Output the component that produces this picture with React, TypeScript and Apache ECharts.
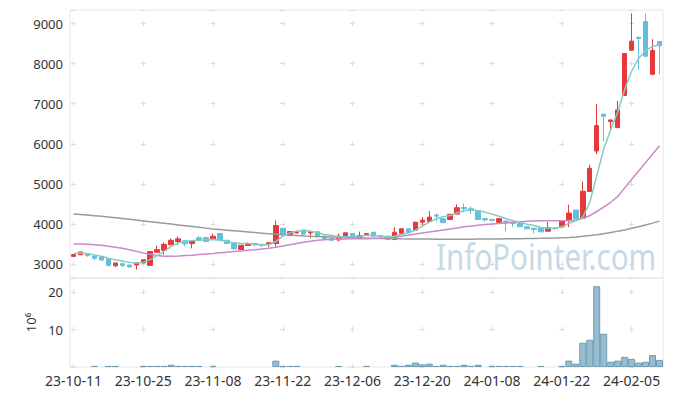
import React, { useEffect, useRef } from 'react';
import * as echarts from 'echarts';

const dates = [
  '23-10-11', '23-10-12', '23-10-13', '23-10-16', '23-10-17', '23-10-18', '23-10-19', '23-10-20', '23-10-23', '23-10-24',
  '23-10-25', '23-10-26', '23-10-27', '23-10-30', '23-10-31', '23-11-01', '23-11-02', '23-11-03', '23-11-06', '23-11-07',
  '23-11-08', '23-11-09', '23-11-10', '23-11-13', '23-11-14', '23-11-15', '23-11-16', '23-11-17', '23-11-20', '23-11-21',
  '23-11-22', '23-11-23', '23-11-24', '23-11-27', '23-11-28', '23-11-29', '23-11-30', '23-12-01', '23-12-04', '23-12-05',
  '23-12-06', '23-12-07', '23-12-08', '23-12-11', '23-12-12', '23-12-13', '23-12-14', '23-12-15', '23-12-18', '23-12-19',
  '23-12-20', '23-12-21', '23-12-22', '23-12-26', '23-12-27', '23-12-28', '24-01-02', '24-01-03', '24-01-04', '24-01-05',
  '24-01-08', '24-01-09', '24-01-10', '24-01-11', '24-01-12', '24-01-15', '24-01-16', '24-01-17', '24-01-18', '24-01-19',
  '24-01-22', '24-01-23', '24-01-24', '24-01-25', '24-01-26', '24-01-29', '24-01-30', '24-01-31', '24-02-01', '24-02-02',
  '24-02-05', '24-02-06', '24-02-07', '24-02-08', '24-02-13',
];

const opens = [
  3190, 3230, 3258, 3190, 3175, 3125, 2957, 3008, 2975, 2975,
  3025, 2965, 3290, 3340, 3477, 3560, 3577, 3510, 3652, 3660,
  3627, 3760, 3592, 3527, 3359, 3460, 3510, 3490, 3500, 3510,
  3890, 3710, 3775, 3843, 3775, 3803, 3693, 3643, 3602, 3678,
  3760, 3635, 3740, 3793, 3710, 3693, 3610, 3768, 3878, 3843,
  4044, 4060, 4220, 4130, 4110, 4245, 4410, 4380, 4330, 4130,
  4110, 4040, 4070, 4044, 4012, 3928, 3895, 3903, 3818, 3895,
  3928, 4100, 4345, 4145, 4810, 5820, 6740, 6555, 6404, 7207,
  8337, 8660, 9050, 7734, 8555,
];

const closes = [
  3235, 3300, 3210, 3140, 3100, 2965, 3025, 2960, 2925, 3025,
  3108, 3310, 3358, 3490, 3592, 3627, 3502, 3560, 3592, 3560,
  3692, 3592, 3510, 3377, 3467, 3510, 3475, 3460, 3530, 3960,
  3722, 3810, 3810, 3743, 3810, 3678, 3635, 3592, 3693, 3778,
  3678, 3710, 3760, 3693, 3680, 3610, 3793, 3878, 3778, 4044,
  4094, 4170, 4195, 4030, 4240, 4405, 4380, 4350, 4110, 4100,
  4090, 4130, 4030, 4010, 3928, 3878, 3860, 3803, 3903, 3880,
  4070, 4270, 4135, 4815, 5390, 6454, 6690, 6595, 6845, 8253,
  8563, 8630, 8186, 8328, 8446,
];

const lows = [
  3170, 3220, 3180, 3090, 3080, 2940, 2920, 2930, 2910, 2860,
  3010, 2960, 3280, 3230, 3470, 3480, 3440, 3390, 3570, 3555,
  3620, 3590, 3505, 3370, 3350, 3455, 3460, 3420, 3420, 3430,
  3715, 3700, 3760, 3740, 3640, 3670, 3630, 3570, 3560, 3640,
  3670, 3630, 3700, 3690, 3660, 3605, 3600, 3760, 3770, 3840,
  3960, 4050, 4060, 4025, 4100, 4240, 4290, 4250, 4105, 4060,
  4070, 4035, 3818, 3930, 3920, 3870, 3760, 3800, 3810, 3850,
  3890, 3920, 4130, 4140, 4800, 5740, 6062, 6350, 6400, 7200,
  8330, 7850, 8170, 7730, 7740,
];

const highs = [
  3250, 3310, 3270, 3210, 3190, 3140, 3030, 3010, 2980, 3030,
  3110, 3320, 3460, 3540, 3640, 3690, 3590, 3570, 3700, 3665,
  3760, 3765, 3600, 3530, 3470, 3540, 3520, 3500, 3535, 4090,
  3895, 3815, 3830, 3850, 3815, 3810, 3700, 3650, 3760, 3780,
  3765, 3810, 3765, 3800, 3730, 3700, 3920, 3885, 3885, 4050,
  4170, 4320, 4270, 4135, 4245, 4490, 4510, 4440, 4335, 4150,
  4120, 4145, 4080, 4060, 4020, 3935, 3900, 3915, 4044, 3920,
  4075, 4480, 4350, 5060, 5480, 6990, 6745, 6605, 7075, 8260,
  9257, 8665, 9250, 8612, 8560,
];

const ma5 = [
  3258, 3276, 3258, 3226, 3191, 3141, 3108, 3075, 3040, 3025,
  3040, 3108, 3208, 3316, 3442, 3527, 3560, 3585, 3592, 3602,
  3610, 3592, 3560, 3527, 3510, 3510, 3492, 3477, 3485, 3560,
  3693, 3778, 3818, 3843, 3818, 3778, 3735, 3710, 3677, 3677,
  3685, 3693, 3710, 3710, 3693, 3677, 3693, 3735, 3778, 3843,
  3944, 4044, 4130, 4180, 4212, 4280, 4330, 4345, 4330, 4295,
  4245, 4190, 4130, 4080, 4044, 3994, 3961, 3911, 3894, 3894,
  3928, 4012, 4080, 4170, 4535, 5199, 5869, 6350, 6790, 7350,
  7810, 8130, 8320, 8430, 8475,
];

const ma20 = [
  3500, 3497, 3490, 3480, 3465, 3445, 3420, 3390, 3355, 3315,
  3275, 3240, 3212, 3195, 3195, 3200, 3210, 3220, 3235, 3250,
  3262, 3280, 3295, 3310, 3325, 3340, 3355, 3372, 3395, 3420,
  3450, 3480, 3510, 3540, 3565, 3590, 3605, 3615, 3620, 3625,
  3628, 3630, 3632, 3635, 3642, 3652, 3665, 3690, 3720, 3750,
  3775, 3800, 3825, 3850, 3875, 3900, 3930, 3950, 3968, 3985,
  3998, 4010, 4025, 4040, 4055, 4065, 4072, 4076, 4078, 4080,
  4080, 4082, 4100, 4140, 4205, 4310, 4420, 4540, 4680, 4900,
  5110, 5320, 5530, 5740, 5950,
];

const ma60 = [
  4250, 4235, 4220, 4205, 4190, 4175, 4155, 4135, 4115, 4095,
  4075, 4055, 4035, 4015, 3995, 3975, 3955, 3935, 3915, 3895,
  3875, 3860, 3845, 3830, 3815, 3800, 3785, 3770, 3755, 3742,
  3730, 3720, 3710, 3700, 3692, 3685, 3678, 3672, 3666, 3660,
  3655, 3650, 3645, 3641, 3637, 3634, 3631, 3628, 3626, 3624,
  3622, 3621, 3620, 3619, 3619, 3619, 3619, 3620, 3621, 3622,
  3624, 3626, 3628, 3630, 3632, 3635, 3638, 3641, 3645, 3650,
  3656, 3664, 3675, 3690, 3708, 3730, 3755, 3785, 3815, 3850,
  3890, 3930, 3975, 4020, 4070,
];

// volume in millions of shares
const volumes = [
  0, 0, 0, 0.3, 0, 0.3, 0.3, 0, 0, 0,
  0.3, 0.3, 0.3, 0.3, 0.6, 0.3, 0.3, 0.3, 0.3, 0,
  0.3, 0, 0, 0, 0, 0, 0, 0, 0, 1.7,
  0.3, 0.3, 0.3, 0, 0, 0, 0, 0, 0.3, 0,
  0, 0, 0.3, 0, 0, 0, 0.6, 0.3, 0.6, 1.2,
  0.7, 0.9, 0.3, 0.6, 0.3, 0.3, 0.6, 0.3, 0.6, 0,
  0.3, 0.3, 0.3, 0.3, 0.3, 0, 0, 0.3, 0, 0,
  0.3, 1.7, 0.9, 6.5, 7.3, 21.6, 8.9, 1.4, 1.7, 2.7,
  2.2, 1.2, 1.4, 3.2, 1.9,
];

const priceMin = 2650;
const priceMax = 9340;
const volMax = 23.8;

const FONT = '"Noto Sans", "DejaVu Sans", sans-serif';
const GRID_LINE = '#dcdcdc';

export default function App() {
  const ref = useRef<HTMLDivElement>(null);

  useEffect(() => {
    if (!ref.current) return;
    const chart = echarts.init(ref.current, null, { renderer: 'svg' });

    const candleData = dates.map((_, i) => [opens[i], closes[i], lows[i], highs[i]]);
    const volData = volumes.map((v) => (v === 0 ? null : v));

    const gridLeft = 70;
    const gridRight = 10;
    const mainTop = 10;
    const mainHeight = 268;
    const volTop = 278;
    const volHeight = 89;
    const plotWidth = 673 - gridLeft - gridRight;
    const band = plotWidth / dates.length;
    const xPeriod = band * 10;
    const dash = 5;
    const hOffset = xPeriod - (band / 2 - dash / 2);
    const mainPer = (1000 * mainHeight) / (priceMax - priceMin);
    const firstMain = ((priceMax - 9000) * mainHeight) / (priceMax - priceMin);
    const vOffsetMain = mainPer - (firstMain - dash / 2);
    const volPer = (10 * volHeight) / volMax;
    const firstVol = ((volMax - 20) * volHeight) / volMax;
    const vOffsetVol = volPer - (firstVol - dash / 2);

    const plain = (v: number) => String(v);

    const option: any = {
      animation: false,
      backgroundColor: '#ffffff',
      textStyle: { fontFamily: FONT },
      grid: [
        { left: gridLeft, right: gridRight, top: mainTop, height: mainHeight, show: true, borderColor: '#e6e6e6', borderWidth: 1 },
        { left: gridLeft, right: gridRight, top: volTop, height: volHeight, show: true, borderColor: '#e6e6e6', borderWidth: 1 },
      ],
      graphic: [
        {
          type: 'text',
          x: 436,
          y: 256,
          scaleX: 0.82,
          z: 1,
          silent: true,
          style: {
            text: 'InfoPointer.com',
            font: '36px "Noto Sans"',
            fill: '#c6d9e5',
            verticalAlign: 'middle',
            align: 'left',
          },
        },
      ],
      xAxis: [
        {
          type: 'category',
          gridIndex: 0,
          data: dates,
          boundaryGap: true,
          axisLine: { show: false },
          axisTick: { show: false },
          axisLabel: { show: false },
          splitLine: {
            show: true,
            interval: 9,
            alignWithLabel: true,
            lineStyle: { color: GRID_LINE, width: 1, type: [dash, mainPer - dash], dashOffset: vOffsetMain },
          },
        },
        {
          type: 'category',
          gridIndex: 1,
          data: dates,
          boundaryGap: true,
          axisLine: { show: false },
          axisTick: { show: false },
          axisLabel: { show: true, interval: 9, fontSize: 14, color: '#333', margin: 6, fontFamily: FONT },
          splitLine: {
            show: true,
            interval: 9,
            alignWithLabel: true,
            lineStyle: { color: GRID_LINE, width: 1, type: [dash, volPer - dash], dashOffset: vOffsetVol },
          },
        },
      ],
      yAxis: [
        {
          type: 'value',
          gridIndex: 0,
          min: priceMin,
          max: priceMax,
          axisLine: { show: false },
          axisTick: { show: false },
          axisLabel: { fontSize: 13, color: '#333', margin: 7, showMinLabel: false, showMaxLabel: false, fontFamily: FONT, formatter: plain },
          splitLine: {
            show: true,
            lineStyle: { color: GRID_LINE, width: 1, type: [dash, xPeriod - dash], dashOffset: hOffset },
          },
        },
        {
          type: 'value',
          gridIndex: 1,
          min: 0,
          max: volMax,
          interval: 10,
          name: '10⁶',
          nameLocation: 'middle',
          nameRotate: 90,
          nameGap: 30,
          nameTextStyle: { fontSize: 13, color: '#333', fontFamily: FONT },
          axisLine: { show: false },
          axisTick: { show: false },
          axisLabel: { fontSize: 13, color: '#333', margin: 7, showMinLabel: false, showMaxLabel: false, fontFamily: FONT, formatter: plain },
          splitLine: {
            show: true,
            lineStyle: { color: GRID_LINE, width: 1, type: [dash, xPeriod - dash], dashOffset: hOffset },
          },
        },
      ],
      series: [
        {
          type: 'candlestick',
          xAxisIndex: 0,
          yAxisIndex: 0,
          data: candleData,
          barWidth: 5,
          z: 3,
          itemStyle: {
            color: '#e63a3a',
            color0: '#64bfdd',
            borderColor: '#e63a3a',
            borderColor0: '#64bfdd',
            borderWidth: 1,
          },
        },
        {
          type: 'line',
          xAxisIndex: 0,
          yAxisIndex: 0,
          data: ma60,
          showSymbol: false,
          z: 4,
          lineStyle: { color: '#9a9a9a', width: 1.5 },
        },
        {
          type: 'line',
          xAxisIndex: 0,
          yAxisIndex: 0,
          data: ma20,
          showSymbol: false,
          z: 4,
          lineStyle: { color: '#cc88c8', width: 1.5 },
        },
        {
          type: 'line',
          xAxisIndex: 0,
          yAxisIndex: 0,
          data: ma5,
          showSymbol: false,
          z: 4,
          lineStyle: { color: '#84ccc0', width: 1.5 },
        },
        {
          type: 'bar',
          xAxisIndex: 1,
          yAxisIndex: 1,
          data: volData,
          barWidth: '100%',
          itemStyle: { color: '#97bdd0', borderColor: '#6e9ab2', borderWidth: 1 },
        },
      ],
    };

    chart.setOption(option);
    return () => chart.dispose();
  }, []);

  return (
    <div
      ref={ref}
      style={{ position: 'fixed', left: 0, top: 0, width: 673, height: 396, background: '#fff' }}
    />
  );
}
